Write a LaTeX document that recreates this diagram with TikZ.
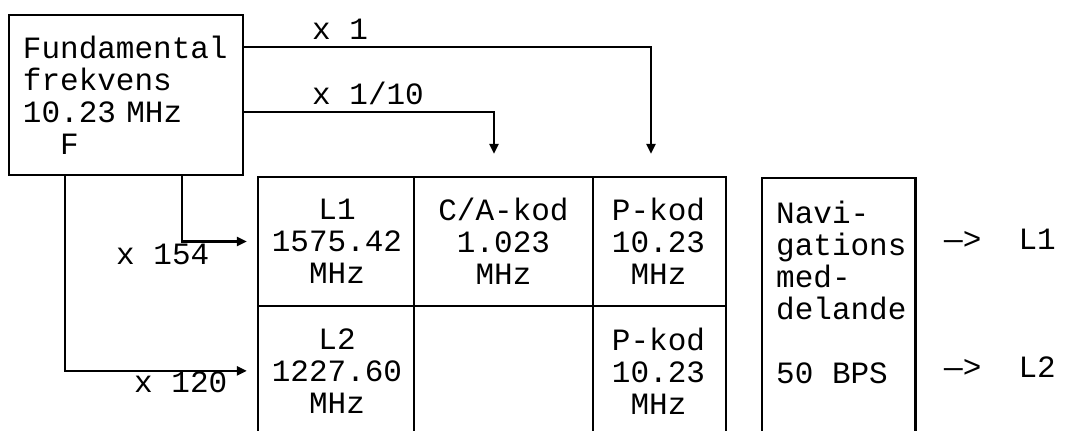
\documentclass[tikz,border=0pt]{standalone}
\usepackage{fontspec}
\setmonofont{Liberation Mono}[WordSpace={1,0,0}]
\usetikzlibrary{positioning,arrows.meta,calc}
\newcommand{\tw}{\ttfamily\fontsize{15.5pt}{16pt}\selectfont}
\tikzset{
  box/.style={draw=black, line width=1.2pt, inner sep=0pt},
  cell/.style={inner sep=0pt, align=center, minimum height=63.5pt},
  arr/.style={-{Triangle[length=5pt,width=4.5pt]}, line width=1.2pt},
  lab/.style={font=\tw, inner sep=0pt},
}

\begin{document}
\begin{tikzpicture}[x=0.5pt, y=-0.5pt, font=\tw, line width=1.2pt]
    \useasboundingbox (0,0) rectangle (1066,431);
    \node[box, minimum width=117pt, minimum height=80pt, text width=103pt, align=left] (fund) at (126,95)
      {Fundamental\\frekvens\\10.23 MHz\\\hphantom{xx}F};
    % signal table
    \node[cell, minimum width=78pt] (l1) at (337,241.5) {L1\\1575.42\\MHz};
    \node[cell, minimum width=88.5pt] (ca) at (503.5,241.5) {C/A-kod\\1.023\\MHz};
    \node[cell, minimum width=66.5pt] (p1) at (658.5,241.5) {P-kod\\10.23\\MHz};
    \node[cell, minimum width=78pt, below=0pt of l1] (l2) {L2\\1227.60\\MHz};
    \node[cell, minimum width=88.5pt, below=0pt of ca] (ca2) {};
    \node[cell, minimum width=66.5pt, below=0pt of p1] (p2) {P-kod\\10.23\\MHz};
    \draw (l2.south west) -- (l1.north west) -- (p1.north east) -- (p2.south east);
    \draw (l1.south west) -- (p1.south east);
    \draw (ca.north west) -- (ca2.south west) (ca.north east) -- (ca2.south east);
    % navigation message
    \node[inner sep=0pt, minimum width=75.5pt, minimum height=126.5pt, anchor=north west] (nav) at (762,178) {};
    \draw (nav.south west) -- (nav.north west) -- (nav.north east) -- (nav.south east);
    \node[lab, align=left, anchor=north west] (navtxt) at (775,200) {Navi-\\gations\\med-\\delande\\[16pt]50 BPS};
    \node[lab, anchor=base west] (o1) at (943,250) {—>\ \ L1};
    \node[lab, anchor=base west] (o2) at (943,378) {—>\ \ L2};
    % multipliers
    \draw[arr, shorten >=11.5pt] ([yshift=-16.5pt]fund.north east) -| ([xshift=-3.75pt]p1.north);
    \draw[arr, shorten >=11.5pt] ([yshift=-49pt]fund.north east) -| ([xshift=-4.75pt]ca.north);
    \draw[arr, shorten >=5.5pt] ([xshift=28pt]fund.south) |- (l1.west);
    \draw[arr, shorten >=5.5pt] ([xshift=-30.5pt]fund.south) |- (l2.west);
    \foreach \n/\x/\y/\t in {m1/311/40/{x 1}, m10/311/105/{x 1/10}, m154/115/265/{x 154}, m120/133/393/{x 120}}
      \node[lab, anchor=base west] (\n) at (\x,\y) {\t};
\end{tikzpicture}
\end{document}
